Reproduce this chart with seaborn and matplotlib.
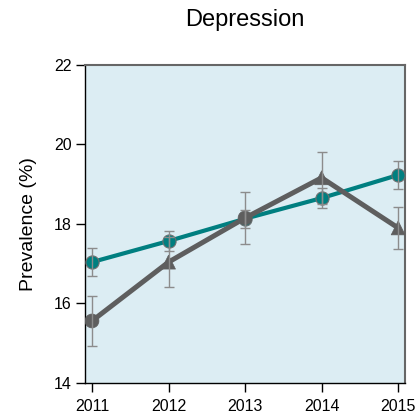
import matplotlib
matplotlib.use("Agg")
import matplotlib.pyplot as plt
import seaborn as sns
import pandas as pd

# Prevalence of depression by survey year, two groups
years = [2011, 2012, 2013, 2014, 2015]
teal_values = [17.04, 17.57, 18.13, 18.65, 19.23]
teal_err = [0.35, 0.25, 0.23, 0.25, 0.35]
gray_values = [15.56, 17.04, 18.15, 19.16, 17.90]
gray_err = [0.63, 0.62, 0.66, 0.65, 0.52]
gray_markers = ["o", "^", "o", "^", "^"]

title = "Depression"
ylabel = "Prevalence (%)"
yticks = [14, 16, 18, 20, 22]

TEAL = "#007f80"
GRAY = "#5e5e5e"
ERR = "#8c8c8c"
BG = "#dcedf3"

sns.set_style("ticks")
plt.rcParams["font.family"] = ["Liberation Sans", "DejaVu Sans"]
plt.rcParams["text.color"] = "black"

teal_df = pd.DataFrame({"year": years, "value": teal_values, "err": teal_err})
gray_df = pd.DataFrame({"year": years, "value": gray_values, "err": gray_err,
                        "marker": gray_markers})

fig = plt.figure(figsize=(4.15, 4.17), dpi=100)
ax = fig.add_axes([0.205, 0.0815, 0.771, 0.763])
ax.set_facecolor(BG)

# lines
sns.lineplot(data=teal_df, x="year", y="value", color=TEAL, linewidth=3.0,
             ax=ax, zorder=3)
sns.lineplot(data=gray_df, x="year", y="value", color=GRAY, linewidth=3.6,
             ax=ax, zorder=4)

# markers
sns.scatterplot(data=teal_df, x="year", y="value", color=TEAL, s=90,
                edgecolor="#6f6f6f", linewidth=0.8, ax=ax, zorder=5)
sns.scatterplot(data=gray_df, x="year", y="value", style="marker",
                markers={m: m for m in set(gray_markers)}, color=GRAY,
                s=100, edgecolor=GRAY, linewidth=0.5, ax=ax, zorder=6,
                legend=False)

# error bars
ax.errorbar(teal_df["year"], teal_df["value"], yerr=teal_df["err"],
            fmt="none", ecolor=ERR, elinewidth=1.0, capsize=3.6,
            capthick=1.0, zorder=7)
ax.errorbar(gray_df["year"], gray_df["value"], yerr=gray_df["err"],
            fmt="none", ecolor=ERR, elinewidth=1.0, capsize=3.6,
            capthick=1.0, zorder=7)

ax.set_xlim(2010.91, 2015.09)
ax.set_ylim(14, 22)
ax.set_xticks(years)
ax.set_xticklabels([str(y) for y in years])
ax.set_yticks(yticks)
ax.set_yticklabels([str(t) for t in yticks])
ax.tick_params(axis="both", labelsize=11.5, length=6.5, width=1.0,
               color="black", labelcolor="black")
ax.tick_params(axis="x", pad=5)
ax.tick_params(axis="y", pad=3)
ax.set_xlabel("")
ax.set_ylabel(ylabel, fontsize=14, labelpad=12, color="black")
ax.set_title(title, fontsize=17, pad=28, color="black")

for side in ("left", "bottom"):
    ax.spines[side].set_color("black")
    ax.spines[side].set_linewidth(1.0)
for side in ("top", "right"):
    ax.spines[side].set_visible(True)
    ax.spines[side].set_color("#666666")
    ax.spines[side].set_linewidth(1.5)

fig.savefig("out.png", dpi=100)
